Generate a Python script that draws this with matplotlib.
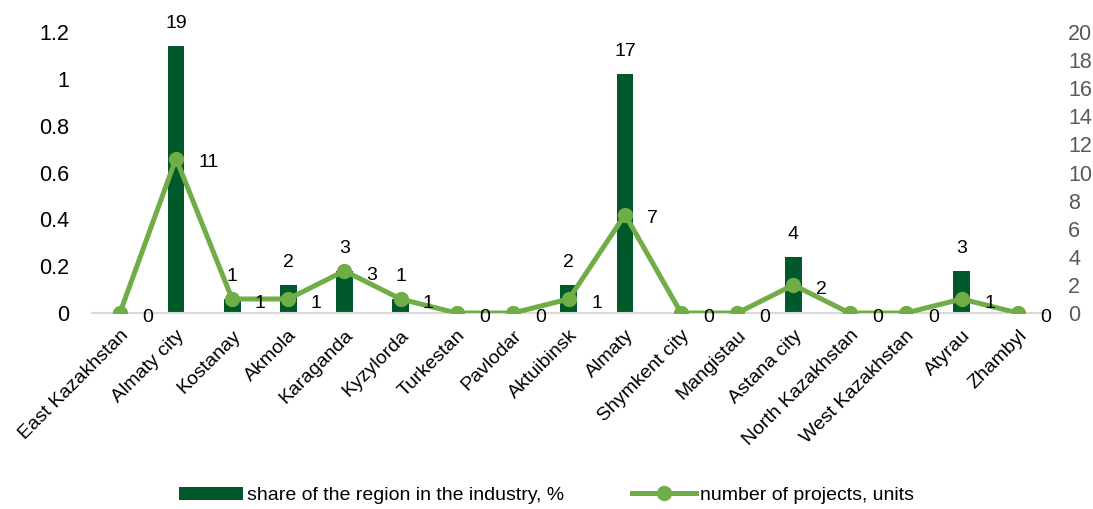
import numpy as np
import matplotlib.pyplot as plt

plt.rcParams['font.family'] = ['Liberation Sans', 'DejaVu Sans']

regions = ["East Kazakhstan", "Almaty city", "Kostanay", "Akmola", "Karaganda",
           "Kyzylorda", "Turkestan", "Pavlodar", "Aktuibinsk", "Almaty",
           "Shymkent city", "Mangistau", "Astana city", "North Kazakhstan",
           "West Kazakhstan", "Atyrau", "Zhambyl"]
share = [0, 1.14, 0.06, 0.12, 0.18, 0.06, 0, 0, 0.12, 1.02, 0, 0, 0.24, 0, 0, 0.18, 0]
share_labels = ["", "19", "1", "2", "3", "1", "", "", "2", "17", "", "", "4", "", "", "3", ""]
projects = [0, 11, 1, 1, 3, 1, 0, 0, 1, 7, 0, 0, 2, 0, 0, 1, 0]

bar_color = "#00592B"
line_color = "#70AD47"

fig = plt.figure(figsize=(10.93, 5.09), dpi=100)
ax = fig.add_axes([0.084, 0.385, 0.873, 0.552])
ax2 = ax.twinx()

x = np.arange(len(regions))
ax.bar(x, share, width=0.3, color=bar_color, zorder=2,
       label="share of the region in the industry, %")
for xi, h, lab in zip(x, share, share_labels):
    if lab:
        ax.annotate(lab, (xi, h), xytext=(0, 10), textcoords="offset points",
                    ha="center", va="bottom", fontsize=14)

ax2.plot(x, projects, color=line_color, lw=3.6, marker="o", ms=10,
         label="number of projects, units", zorder=3)
for xi, v in zip(x, projects):
    ax2.annotate(str(v), (xi, v), xytext=(16, -3), textcoords="offset points",
                 ha="left", va="center", fontsize=14)

ax.set_xlim(-0.5, len(regions) - 0.5)
ax.set_ylim(0, 1.2)
ax2.set_ylim(0, 20)
ax.set_yticks(np.arange(0, 1.21, 0.2))
ax.set_yticklabels(["0", "0.2", "0.4", "0.6", "0.8", "1", "1.2"])
ax2.set_yticks(np.arange(0, 21, 2))

ax.set_xticks(x)
ax.set_xticklabels(regions, rotation=45, ha="right", rotation_mode="anchor", fontsize=14)

for a in (ax, ax2):
    for s in a.spines.values():
        s.set_visible(False)
ax.spines["bottom"].set_visible(True)
ax.spines["bottom"].set_color("#D9D9D9")
ax.spines["bottom"].set_linewidth(1.5)

ax.tick_params(axis="x", length=0, pad=10)
ax.tick_params(axis="y", length=0, labelsize=15.5, pad=16, colors="black")
ax2.tick_params(axis="y", length=0, labelsize=15.5, pad=16, labelcolor="#595959")

h1, l1 = ax.get_legend_handles_labels()
h2, l2 = ax2.get_legend_handles_labels()
fig.legend(h1 + h2, l1 + l2, loc="lower center", bbox_to_anchor=(0.5, -0.025),
           ncol=2, frameon=False, fontsize=14, handlelength=3.3, columnspacing=3.5,
           handletextpad=0.2)

fig.savefig("out.png", dpi=100)
